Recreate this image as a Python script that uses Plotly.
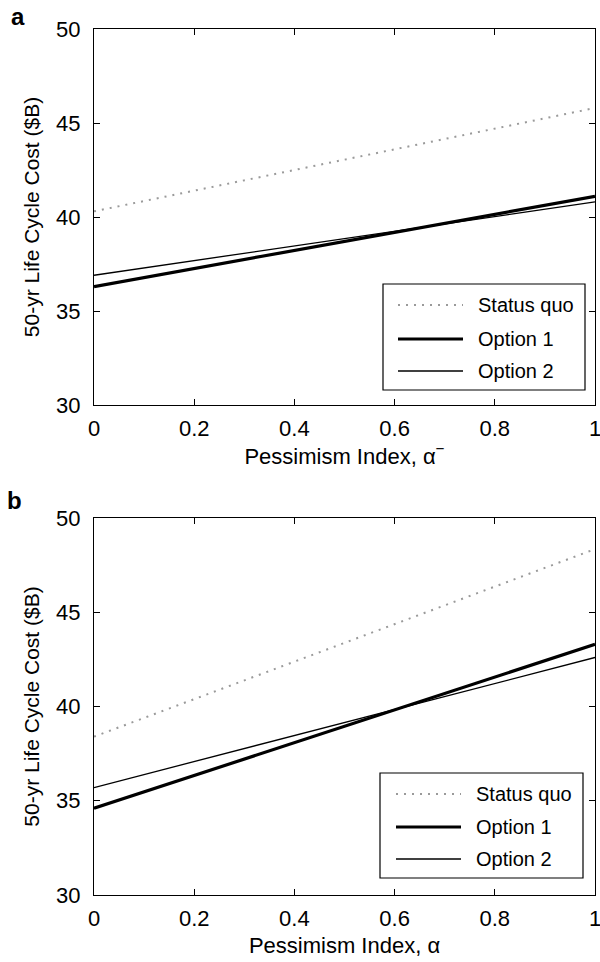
import plotly.graph_objects as go

# Pessimism index sweep (endpoints of each linear cost curve)
alpha = [0.0, 1.0]

# Panel a: life cycle cost ($B) vs alpha-minus
a_status_quo = [40.3, 45.8]
a_option1 = [36.3, 41.1]
a_option2 = [36.9, 40.8]

# Panel b: life cycle cost ($B) vs alpha
b_status_quo = [38.4, 48.35]
b_option1 = [34.6, 43.3]
b_option2 = [35.7, 42.6]

series_names = ["Status quo", "Option 1", "Option 2"]
x_ticks = [0, 0.2, 0.4, 0.6, 0.8, 1]
x_tick_text = ["0", "0.2", "0.4", "0.6", "0.8", "1"]
y_ticks = [30, 35, 40, 45, 50]

FONT = "Liberation Sans, Arial, Helvetica, sans-serif"
W, H = 600, 962

styles = [
    dict(color="#9a9a9a", width=2, dash="2px,6px"),
    dict(color="black", width=3.2),
    dict(color="black", width=1.3),
]

fig = go.Figure()
panels = [
    ("x", "y", [a_status_quo, a_option1, a_option2]),
    ("x2", "y2", [b_status_quo, b_option1, b_option2]),
]
for xa, ya, data in panels:
    for name, vals, st in zip(series_names, data, styles):
        fig.add_trace(go.Scatter(x=alpha, y=vals, mode="lines", name=name,
                                 line=st, xaxis=xa, yaxis=ya, showlegend=False))

def px_x(p):
    return p / W

def px_y(p):
    return 1 - p / H

axis_common = dict(
    showline=True, linecolor="black", linewidth=1.2, mirror="ticks",
    ticks="inside", ticklen=6, tickwidth=1, tickcolor="black",
    showgrid=False, zeroline=False, ticklabeloverflow="allow", automargin=False,
    tickfont=dict(family=FONT, size=22, color="black"),
)
x_common = dict(range=[0, 1], tickvals=x_ticks, ticktext=x_tick_text,
                ticklabelstandoff=3, **axis_common)
y_common = dict(range=[30, 50], tickvals=y_ticks, ticklabelstandoff=8,
                title=dict(text="50-yr Life Cycle Cost ($B)", font=dict(size=21), standoff=10),
                **axis_common)

# plot-area pixel boxes: (left, right, top, bottom)
box_a = (94, 595, 29, 405)
box_b = (94, 595, 518, 895)

fig.update_layout(
    width=W, height=H,
    margin=dict(l=0, r=0, t=0, b=0, autoexpand=False),
    paper_bgcolor="white", plot_bgcolor="white",
    font=dict(family=FONT, size=20, color="black"),
    xaxis=dict(domain=[px_x(box_a[0]), px_x(box_a[1])], anchor="y",
               title=dict(text="Pessimism Index, α<sup>−</sup>", font=dict(size=22), standoff=8),
               **x_common),
    yaxis=dict(domain=[px_y(box_a[3]), px_y(box_a[2])], anchor="x", **y_common),
    xaxis2=dict(domain=[px_x(box_b[0]), px_x(box_b[1])], anchor="y2",
                title=dict(text="Pessimism Index, α", font=dict(size=22), standoff=8),
                **x_common),
    yaxis2=dict(domain=[px_y(box_b[3]), px_y(box_b[2])], anchor="x2", **y_common),
)

# Panel letters
fig.add_annotation(x=px_x(9), y=px_y(16), xref="paper", yref="paper", text="<b>a</b>",
                   showarrow=False, xanchor="left", yanchor="middle",
                   font=dict(family=FONT, size=24, color="black"))
fig.add_annotation(x=px_x(5), y=px_y(500), xref="paper", yref="paper", text="<b>b</b>",
                   showarrow=False, xanchor="left", yanchor="middle",
                   font=dict(family=FONT, size=24, color="black"))

# Legend boxes drawn in pixel layout: (left, right, top, bottom, row y-centres, line x0, line x1, text x)
legends = [
    (383, 585, 284, 390, [305, 339, 371], 398, 463, 476),
    (380, 583, 773, 878, [794, 827, 859], 396, 461, 474),
]
for (l, r, t, b, rows, lx0, lx1, tx) in legends:
    fig.add_shape(type="rect", xref="paper", yref="paper",
                  x0=px_x(l), x1=px_x(r), y0=px_y(b), y1=px_y(t),
                  line=dict(color="black", width=1.2), fillcolor="white", layer="above")
    for name, st, yc in zip(series_names, styles, rows):
        fig.add_shape(type="line", xref="paper", yref="paper",
                      x0=px_x(lx0), x1=px_x(lx1), y0=px_y(yc), y1=px_y(yc),
                      line=st, layer="above")
        fig.add_annotation(x=px_x(tx), y=px_y(yc), xref="paper", yref="paper", text=name,
                           showarrow=False, xanchor="left", yanchor="middle",
                           font=dict(family=FONT, size=20, color="black"))

fig.write_html("out.html")
